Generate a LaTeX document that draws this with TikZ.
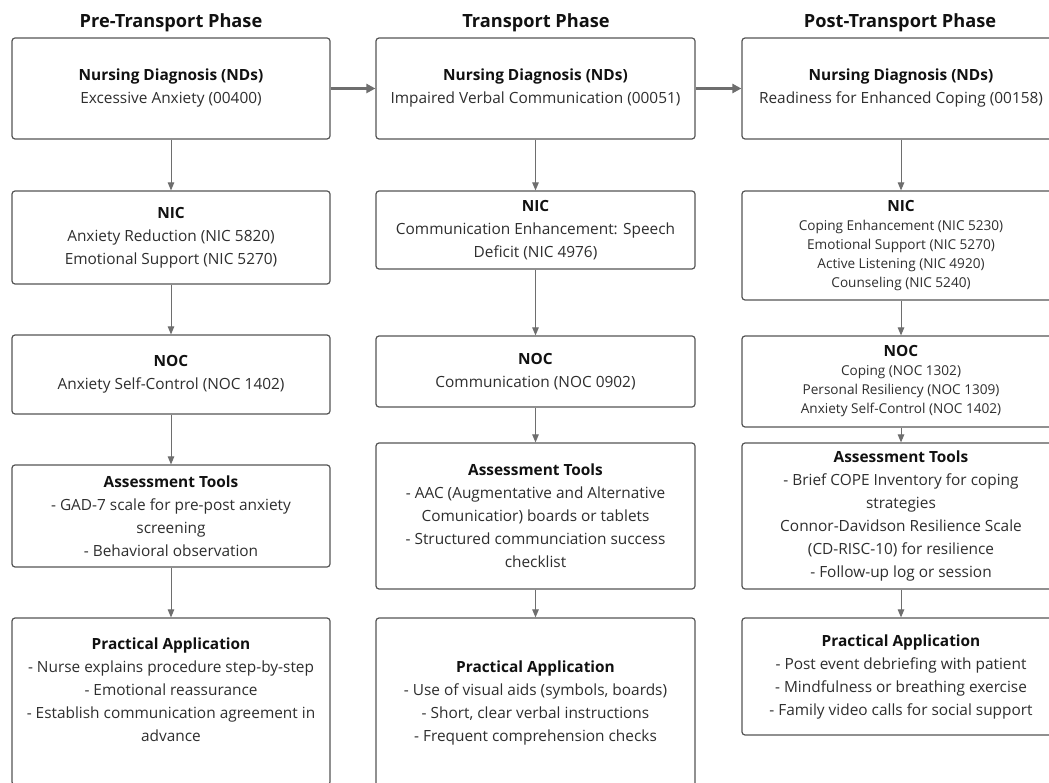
\documentclass[tikz,border=0pt]{standalone}
\usepackage{fontspec}
\setmainfont{Open Sans}
\usetikzlibrary{arrows.meta}
\definecolor{boxgray}{HTML}{555555}
\definecolor{arrgray}{HTML}{6E6E6E}
\definecolor{txtgray}{HTML}{2E2E2E}
\definecolor{hdblack}{HTML}{111111}
\newcommand\hd[1]{{\color{hdblack}\bfseries #1}}
\newcommand\bx[7][]{\node[box,#1,minimum width={#4-#2},minimum height={#5-#3}] (#7) at ({(#2+#4)/2},{(#3+#5)/2}) {#6};}
\begin{document}
\begin{tikzpicture}[x=1pt,y=-1pt,
  box/.style={draw=boxgray, line width=1.2pt, rounded corners=3pt, align=center, inner sep=0pt,
    font=\fontsize{15.4}{23}\selectfont, text=txtgray},
  small/.style={font=\fontsize{13.6}{19}\selectfont},
  phasetitle/.style={font=\fontsize{18.2}{22}\selectfont\bfseries, text=hdblack},
  arr/.style={draw=arrgray, line width=1pt, -{Triangle[length=8pt,width=6.5pt]}},
  harr/.style={draw=arrgray, line width=2.6pt, -{Triangle[length=9pt,width=9pt]}}]
\fill[white] (0,0) rectangle (1049,783);
\clip (0,0) rectangle (1049,783);
% titles
\node[phasetitle] (t1) at (171,23) {Pre-Transport Phase};
\node[phasetitle] (t2) at (536,23) {Transport Phase};
\node[phasetitle] (t3) at (900,23) {Post-Transport Phase};
% column 1
\bx{12}{38}{330}{139}{\hd{Nursing Diagnosis (NDs)}\\Excessive Anxiety (00400)}{nd1}
\bx{12}{191}{330}{284}{\hd{NIC}\\Anxiety Reduction (NIC 5820)\\Emotional Support (NIC 5270)}{nic1}
\bx{12}{335}{330}{414}{\hd{NOC}\\Anxiety Self-Control (NOC 1402)}{noc1}
\bx{12}{465}{330}{567}{\hd{Assessment Tools}\\- GAD-7 scale for pre-post anxiety\\screening\\- Behavioral observation}{at1}
\bx{12}{618}{330}{785}{\hd{Practical Application}\\- Nurse explains procedure step-by-step\\- Emotional reassurance\\- Establish communication agreement in\\advance\\~}{pa1}
% column 2
\bx{376}{38}{695}{139}{\hd{Nursing Diagnosis (NDs)}\\Impaired Verbal Communication (00051)}{nd2}
\bx{376}{191}{695}{269}{\hd{NIC}\\Communication Enhancement: Speech\\Deficit (NIC 4976)}{nic2}
\bx{376}{336}{695}{407}{\hd{NOC}\\Communication (NOC 0902)}{noc2}
\bx{376}{443}{695}{589}{\hd{Assessment Tools}\\- AAC (Augmentative and Alternative\\Comunicatior) boards or tablets\\- Structured communciation success\\checklist}{at2}
\bx{376}{618}{695}{787}{\hd{Practical Application}\\- Use of visual aids (symbols, boards)\\- Short, clear verbal instructions\\- Frequent comprehension checks}{pa2}
% column 3
\bx{742}{38}{1060}{139}{\hd{Nursing Diagnosis (NDs)}\\Readiness for Enhanced Coping (00158)}{nd3}
\bx[small]{742}{191}{1060}{300}{\hd{\fontsize{15.4}{19}\selectfont NIC}\\Coping Enhancement (NIC 5230)\\Emotional Support (NIC 5270)\\Active Listening (NIC 4920)\\Counseling (NIC 5240)}{nic3}
\bx[small]{742}{336}{1060}{427}{\hd{\fontsize{15.4}{19}\selectfont NOC}\\Coping (NOC 1302)\\Personal Resiliency (NOC 1309)\\Anxiety Self-Control (NOC 1402)}{noc3}
\bx{742}{443}{1060}{589}{\hd{Assessment Tools}\\- Brief COPE Inventory for coping\\strategies\\Connor-Davidson Resilience Scale\\(CD-RISC-10) for resilience\\- Follow-up log or session}{at3}
\bx{742}{618}{1060}{735}{\hd{Practical Application}\\- Post event debriefing with patient\\- Mindfulness or breathing exercise\\- Family video calls for social support}{pa3}
% horizontal arrows
\draw[harr] (nd1) -- (nd2);
\draw[harr] (nd2) -- (nd3);
% vertical arrows
\foreach \c in {1,2,3}{
  \draw[arr] (nd\c.south) -- (nic\c.north);
  \draw[arr] (nic\c.south) -- (noc\c.north);
  \draw[arr] (noc\c.south) -- (at\c.north);
  \draw[arr] (at\c.south) -- (pa\c.north);
}
\end{tikzpicture}
\end{document}
